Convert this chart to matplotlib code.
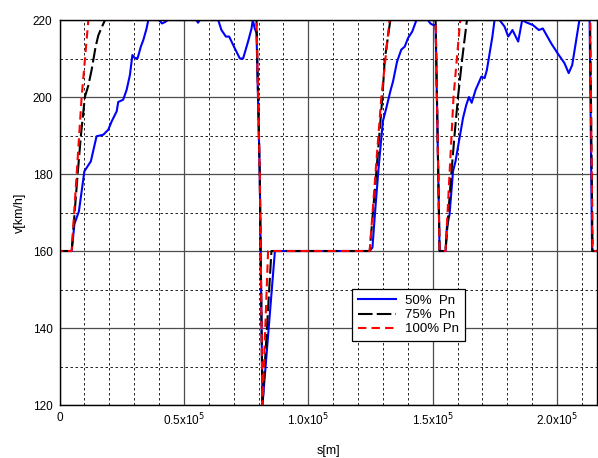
import matplotlib
matplotlib.use('Agg')
import matplotlib.pyplot as plt
from matplotlib.ticker import MultipleLocator, FixedLocator

plt.rcParams['font.family'] = ['Liberation Sans', 'DejaVu Sans']

# 50% Pn
s50 = [0, 0, 4900, 6000, 7800, 10000, 12600, 14900, 17600, 19600,
       21000, 23000, 23600, 25600, 27000, 28300, 29300, 30300, 31400, 32700,
       33700, 35000, 35700, 40000, 41200, 42500, 43500, 55000, 55700, 56400,
       63800, 65100, 66900, 68200, 70500, 72500, 73800, 75800, 77200, 77700,
       78500, 79200, 80500, 81600, 86600, 124700, 125800, 127100, 128400, 130000,
       131400, 133000, 134100, 135700, 137400, 138800, 140100, 141800, 143500, 148100,
       149100, 149900, 151200, 152800, 155200, 155700, 156800, 158200, 159200, 160800,
       162200, 163500, 164600, 165700, 167300, 168200, 169600, 170900, 171800, 172900,
       174000, 174900, 176900, 178900, 180400, 182100, 184400, 186000, 187600, 190300,
       192700, 194300, 197700, 200300, 203000, 204700, 206100, 207400, 209000, 213100,
       214100, 216000]
v50 = [120, 160, 160, 167, 170.3, 180.7, 183.3, 189.8, 190.2, 191.5,
       193.7, 196.3, 198.7, 199.3, 201.9, 205.7, 210.9, 210.1, 210.1, 213.1,
       214.8, 217.8, 220, 220, 219.1, 219.5, 220, 220, 219.3, 220,
       220, 217.4, 215.7, 215.7, 212.6, 210, 210, 214.4, 217.8, 220,
       217.8, 216.6, 180, 120, 160, 160, 160.9, 172.1, 182.5, 193.7,
       197.2, 201.5, 204.1, 209.2, 212.3, 213.1, 215.3, 217, 220, 220,
       219.1, 218.8, 218.6, 160, 160, 166, 169.5, 180.7, 183.3, 189.3,
       194.5, 197.9, 200, 198.5, 201.9, 203.2, 205.3, 204.9, 207, 211.3,
       215.6, 220, 220, 218.3, 215.7, 217.4, 214.4, 220, 219.4, 218.7,
       217.4, 217.8, 213.9, 211.3, 208.8, 206.2, 208.3, 213.5, 220, 220,
       160, 160]

# 75% Pn
s75 = [0, 0, 4900, 6200, 7300, 8600, 10200, 11600, 12900, 14500,
       15600, 16900, 18300, 79200, 80500, 81600, 85200, 124700, 127300, 129800,
       130800, 133000, 151200, 152800, 155200, 157500, 158800, 160200, 161900, 163800,
       213300, 214300, 216000]
v75 = [120, 160, 160, 171, 180, 190, 200, 203, 207, 213,
       216, 218, 220, 220, 180, 120, 160, 160, 180, 200,
       210, 220, 220, 160, 160, 180, 190, 200, 210, 220,
       220, 160, 160]

# 100% Pn
s100 = [0, 0, 4900, 6900, 8900, 11600, 79200, 80500, 81600, 83850,
        124700, 127000, 129400, 132700, 151200, 152800, 155200, 156800, 158400, 161100,
        213300, 214300, 216000]
v100 = [120, 160, 160, 180, 200, 220, 220, 180, 120, 160,
        160, 180, 200, 220, 220, 160, 160, 180, 200, 220,
        220, 160, 160]

xticks = [0, 50000, 100000, 150000, 200000]
xticklabels = ['0', r'0.5x10$^5$', r'1.0x10$^5$', r'1.5x10$^5$', r'2.0x10$^5$']

fig = plt.figure(figsize=(5.98, 4.58), dpi=100)
ax = fig.add_axes([0.0995, 0.1157, 0.8985, 0.8406])

ax.plot(s50, v50, color='#0000ff', lw=1.5, label='50%  Pn')
ax.plot(s75, v75, color='black', lw=1.5, linestyle=(0, (7, 2)), label='75%  Pn')
ax.plot(s100, v100, color='#ff0000', lw=1.5, linestyle=(0, (4, 2.5)), label='100% Pn')

ax.set_xlim(0, 216000)
ax.set_ylim(120, 220)
ax.xaxis.set_major_locator(FixedLocator(xticks))
ax.set_xticklabels(xticklabels)
ax.xaxis.set_minor_locator(MultipleLocator(10000))
ax.yaxis.set_major_locator(MultipleLocator(20))
ax.yaxis.set_minor_locator(MultipleLocator(10))

ax.grid(which='major', color='0.3', lw=0.9, linestyle='-')
ax.grid(which='minor', color='black', lw=0.6, linestyle=(0, (3, 3)))
ax.set_axisbelow(True)
ax.tick_params(which='both', direction='in', length=0, labelsize=8.5, pad=5)

for sp in ax.spines.values():
    sp.set_linewidth(1)

ax.set_xlabel('s[m]', fontsize=9, labelpad=12)
ax.set_ylabel('v[km/h]', fontsize=9, labelpad=4.5)

leg = ax.legend(loc='lower left', bbox_to_anchor=(0.533, 0.15), fontsize=9.5,
                fancybox=False, edgecolor='black', framealpha=1,
                handlelength=2.9, handletextpad=0.7, borderpad=0.4,
                labelspacing=0.15)
leg.get_frame().set_linewidth(0.9)

fig.savefig('out.png', dpi=100)
